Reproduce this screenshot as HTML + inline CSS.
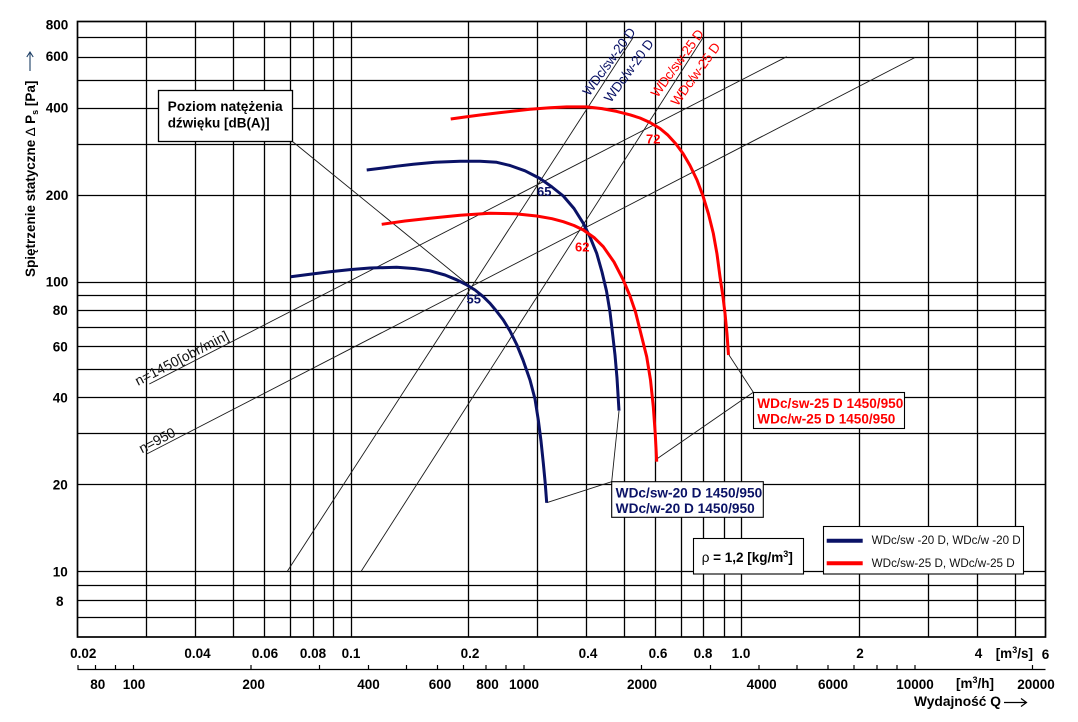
<!DOCTYPE html>
<html><head><meta charset="utf-8"><style>
html,body{margin:0;padding:0;background:#fff;}
svg{display:block;}
</style></head><body>
<svg width="1078" height="722" viewBox="0 0 1078 722" xmlns="http://www.w3.org/2000/svg" font-family="'Liberation Sans', Arial, sans-serif">
<rect width="1078" height="722" fill="#fff"/>
<!-- grid -->
<path fill="none" stroke="#000" stroke-width="1.3" d="
M146.5 21.5V637 M195.5 21.5V637 M233.5 21.5V637 M264.5 21.5V637 M290.5 21.5V637 M313.5 21.5V637 M333.5 21.5V637 M351.5 21.5V637
M468.5 21.5V637 M537.5 21.5V637 M586.5 21.5V637 M624.5 21.5V637 M655.5 21.5V637 M681.5 21.5V637 M703.5 21.5V637 M724.5 21.5V637 M741.5 21.5V637
M859.5 21.5V637 M928.5 21.5V637 M977.5 21.5V637 M1015.5 21.5V637
M77.5 37.5H1045.5 M77.5 57.5H1045.5 M77.5 80.5H1045.5 M77.5 108.5H1045.5 M77.5 144.5H1045.5 M77.5 195.5H1045.5
M77.5 282.5H1045.5 M77.5 295.5H1045.5 M77.5 310.5H1045.5 M77.5 327.5H1045.5 M77.5 346.5H1045.5 M77.5 369.5H1045.5 M77.5 397.5H1045.5 M77.5 433.5H1045.5 M77.5 484.5H1045.5
M77.5 571.5H1045.5 M77.5 585.5H1045.5 M77.5 600.5H1045.5 M77.5 617.5H1045.5"/>
<rect x="77.5" y="21.5" width="968" height="615.5" fill="none" stroke="#000" stroke-width="1.7"/>

<!-- bottom m3/h axis -->
<path fill="none" stroke="#000" stroke-width="1.2" d="M77.5 669.5H1045.5
M78 665V669.5 M95.5 665V669.5 M115.5 665V669.5 M133.5 665V669.5 M251 665V669.5 M319.5 665V669.5 M368.5 665V669.5 M406.5 665V669.5 M437.5 665V669.5 M463.5 665V669.5 M486 665V669.5 M506 665V669.5 M524 665V669.5
M641.5 665V669.5 M710.5 665V669.5 M759 665V669.5 M797 665V669.5 M828 665V669.5 M854 665V669.5 M877 665V669.5 M897 665V669.5 M915 665V669.5 M1032.5 665V669.5"/>

<!-- thin guide lines -->
<g fill="none" stroke="#1a1a1a" stroke-width="0.9">
<path d="M287 571.7L633.3 37.3"/>
<path d="M360.9 571.7L703.3 37.3"/>
<path d="M149.3 384L786.7 56.7"/>
<path d="M146.7 454L915 57.5"/>
<path d="M292.5 141.5L471 287"/>
<path d="M546.7 502.7L611.7 481.7L619 411"/>
<path d="M656.7 459L753.3 392.3L729 355"/>
</g>

<!-- curves -->
<g fill="none" stroke-width="3" stroke-linejoin="round" stroke-linecap="butt">
<polyline stroke="#0a1266" points="290.7,276.7 310,274.2 330,271.8 350,269.6 370,268.0 396.7,267.3 415,268.6 430,270.8 445,275 456.7,279.8 466,284.5 475,290 483.3,296.7 490,303.3 496,310.5 503.3,320 510,331 516.7,344.5 523,360 530,380 535,399 538.3,420 541,441 543.3,463 545.2,483 546.7,502.7"/>
<polyline stroke="#0a1266" points="366.7,170 385,167.8 396.7,166.2 413.3,164.2 435,162.2 460,161.2 480,161.3 496.7,162.3 510,165.5 525,170.8 540,178.5 552,187 563.3,196 574,208.5 583.3,223.3 590,237 596.7,253.3 602,272 606.5,291 610,312 612.5,333 615,355 617,378 619,410.7"/>
<polyline stroke="#ff0000" points="381.7,224.3 405,221 430,218.3 460,215.2 490,213.3 515,213.8 536.7,216 552,218.7 563.3,221.7 574,225.5 583.3,230 594,237.5 603.3,246.7 614,262 623.3,280 630,296 635.5,312 641.7,336.7 646.7,356.7 650.5,380 653.3,406.7 655.2,433 656.7,461.7"/>
<polyline stroke="#ff0000" points="450.7,119 465,117 480,115 500,112.6 530,109.3 550,107.7 566.7,106.9 586.7,106.9 602,108.6 616.7,111.4 630,114.8 640,118 650,122.5 660,128.5 668,135.2 676,144 683,153.5 690,165.5 697,180 703,196 708.5,214 713.3,233.3 717,254 720,276.7 723,297 725,313.3 727,334 728.5,355"/>
</g>

<!-- point labels -->
<g font-weight="bold" font-size="13">
<text x="466.5" y="303.3" fill="#0a1266">55</text>
<text x="537" y="196" fill="#0a1266">65</text>
<text x="575" y="251.7" fill="#ff0000">62</text>
<text x="646" y="143.5" fill="#ff0000">72</text>
</g>

<!-- rotated top labels -->
<g font-size="13.5">
<text transform="translate(589.2,96.7) rotate(-54)" fill="#0a1266" textLength="80" lengthAdjust="spacing">WDc/sw-20 D</text>
<text transform="translate(610.8,103.3) rotate(-54)" fill="#0a1266" textLength="74" lengthAdjust="spacing">WDc/w-20 D</text>
<text transform="translate(657.5,98.3) rotate(-54)" fill="#ff0000" textLength="80" lengthAdjust="spacing">WDc/sw-25 D</text>
<text transform="translate(677.5,106.7) rotate(-54)" fill="#ff0000" textLength="74" lengthAdjust="spacing">WDc/w-25 D</text>
<text transform="translate(138,386) rotate(-27.2)" fill="#111" font-size="14" textLength="103" lengthAdjust="spacing">n=1450[obr/min]</text>
<text transform="translate(142,453.5) rotate(-27.5)" fill="#111" font-size="14" textLength="39" lengthAdjust="spacing">n=950</text>
</g>

<!-- Poziom box -->
<rect x="158.5" y="90.5" width="134" height="51" fill="#fff" stroke="#000" stroke-width="1.3"/>
<g font-weight="bold" font-size="13.5" fill="#000">
<text x="167.7" y="111" textLength="115" lengthAdjust="spacingAndGlyphs">Poziom natężenia</text>
<text x="167.7" y="127.5">dźwięku [dB(A)]</text>
</g>

<!-- red series box -->
<rect x="753.5" y="392.5" width="151" height="36" fill="#fff" stroke="#000" stroke-width="1.1"/>
<g font-weight="bold" font-size="13.5" fill="#ff0000">
<text x="757.3" y="408" textLength="146" lengthAdjust="spacingAndGlyphs">WDc/sw-25 D 1450/950</text>
<text x="757.3" y="423.5" textLength="138" lengthAdjust="spacingAndGlyphs">WDc/w-25 D 1450/950</text>
</g>

<!-- blue series box -->
<rect x="611.7" y="481.7" width="151.6" height="35.6" fill="#fff" stroke="#000" stroke-width="1.1"/>
<g font-weight="bold" font-size="13.5" fill="#0a1266">
<text x="615.7" y="497.5" textLength="146.5" lengthAdjust="spacingAndGlyphs">WDc/sw-20 D 1450/950</text>
<text x="615.7" y="513" textLength="139" lengthAdjust="spacingAndGlyphs">WDc/w-20 D 1450/950</text>
</g>

<!-- rho box -->
<rect x="693.5" y="538.5" width="110" height="35.5" fill="#fff" stroke="#000" stroke-width="1.1"/>
<text x="701.7" y="562" font-size="13.5" font-weight="bold" fill="#000"><tspan font-weight="normal">ρ</tspan> = 1,2 [kg/m<tspan font-size="9" dy="-5">3</tspan><tspan dy="5">]</tspan></text>

<!-- legend -->
<rect x="823.5" y="526.5" width="200" height="47.5" fill="#fff" stroke="#000" stroke-width="1.1"/>
<path d="M826.7 540.7H862.7" stroke="#0a1266" stroke-width="4"/>
<path d="M826.7 563.3H862.7" stroke="#ff0000" stroke-width="4"/>
<g font-size="11.5" fill="#111">
<text x="871.7" y="544" textLength="149" lengthAdjust="spacingAndGlyphs">WDc/sw -20 D, WDc/w -20 D</text>
<text x="871.7" y="567" textLength="143" lengthAdjust="spacingAndGlyphs">WDc/sw-25 D, WDc/w-25 D</text>
</g>

<!-- y-axis labels -->
<g font-weight="bold" font-size="13.5" fill="#000" text-anchor="end">
<text x="68.3" y="29.5">800</text>
<text x="68.3" y="61">600</text>
<text x="68.3" y="112.7">400</text>
<text x="68.3" y="200">200</text>
<text x="68.3" y="286.7">100</text>
<text x="67.8" y="315">80</text>
<text x="67.8" y="351.3">60</text>
<text x="67.8" y="402.3">40</text>
<text x="67.8" y="489.4">20</text>
<text x="67.8" y="576.3">10</text>
<text x="63.5" y="605.8">8</text>
</g>

<!-- y-axis title -->
<text transform="translate(35,277) rotate(-90)" font-weight="bold" font-size="13.5" fill="#000">Spiętrzenie statyczne <tspan font-weight="normal">∆</tspan> P<tspan font-size="9" dy="3">s</tspan><tspan dy="-3"> [Pa]</tspan></text>
<path d="M30 71V52 M26.8 57L30 52L33.2 57" fill="none" stroke="#1d3f66" stroke-width="1.1"/>

<!-- x-axis labels top row (m3/s) -->
<g font-weight="bold" font-size="13.5" fill="#000" text-anchor="middle">
<text x="83.3" y="657.8">0.02</text>
<text x="197.5" y="657.8">0.04</text>
<text x="265" y="657.8">0.06</text>
<text x="313" y="657.8">0.08</text>
<text x="351" y="657.8">0.1</text>
<text x="470" y="657.8">0.2</text>
<text x="588" y="657.8">0.4</text>
<text x="658" y="657.8">0.6</text>
<text x="703" y="657.8">0.8</text>
<text x="741" y="657.8">1.0</text>
<text x="860" y="657.8">2</text>
<text x="978.5" y="657.8">4</text>
<text x="1045.5" y="658.8">6</text>
</g>
<text x="995.7" y="657.8" font-weight="bold" font-size="13.5" fill="#000">[m<tspan font-size="9" dy="-5">3</tspan><tspan dy="5">/s]</tspan></text>

<!-- x-axis labels bottom row (m3/h) -->
<g font-weight="bold" font-size="13.5" fill="#000" text-anchor="middle">
<text x="97.8" y="689">80</text>
<text x="134" y="689">100</text>
<text x="253.6" y="689">200</text>
<text x="368.5" y="689">400</text>
<text x="440" y="689">600</text>
<text x="487.5" y="689">800</text>
<text x="524" y="689">1000</text>
<text x="642" y="689">2000</text>
<text x="761.6" y="689">4000</text>
<text x="833" y="689">6000</text>
<text x="915" y="689">10000</text>
<text x="1036" y="689">20000</text>
</g>
<text x="956" y="688" font-weight="bold" font-size="13.5" fill="#000">[m<tspan font-size="9" dy="-5">3</tspan><tspan dy="5">/h]</tspan></text>

<!-- x-axis title -->
<text x="914" y="706" font-weight="bold" font-size="13.5" fill="#000" textLength="87" lengthAdjust="spacingAndGlyphs">Wydajność Q</text>
<path d="M1004 702.5H1026.5 M1021 698.5L1026.5 702.5L1021 706.5" fill="none" stroke="#000" stroke-width="1.2"/>
</svg>
</body></html>
